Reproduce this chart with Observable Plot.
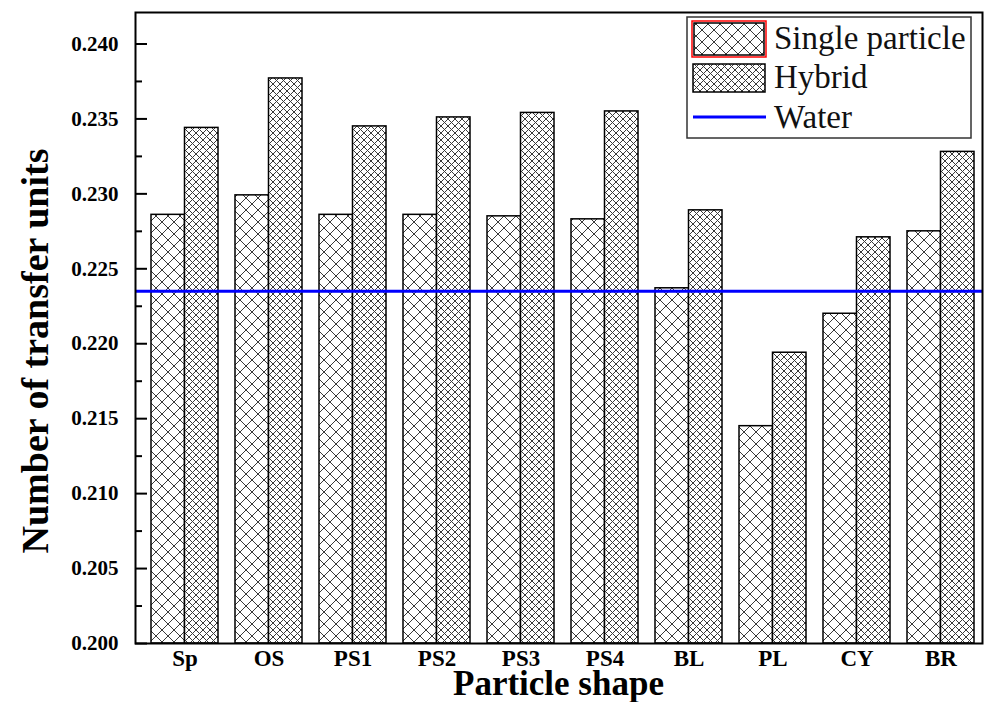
<!DOCTYPE html>
<html>
<head>
<meta charset="utf-8">
<script src="https://cdn.jsdelivr.net/npm/d3@7"></script>
<script src="https://cdn.jsdelivr.net/npm/@observablehq/plot@0.6"></script>
<style>
  html, body { margin: 0; padding: 0; background: white; }
  #chart svg { display: block; }
</style>
</head>
<body>
<div id="chart"></div>
<script>
// ---- data ----
const shapes = ["Sp", "OS", "PS1", "PS2", "PS3", "PS4", "BL", "PL", "CY", "BR"];
const singleParticle = [0.2286, 0.2299, 0.2286, 0.2286, 0.2285, 0.2283, 0.2237, 0.2145, 0.2220, 0.2275];
const hybrid = [0.2344, 0.2377, 0.2345, 0.2351, 0.2354, 0.2355, 0.2289, 0.2194, 0.2271, 0.2328];
const water = 0.2235;
const yMajorTicks = [0.200, 0.205, 0.210, 0.215, 0.220, 0.225, 0.230, 0.235, 0.240];
const yMinorTicks = [0.2025, 0.2075, 0.2125, 0.2175, 0.2225, 0.2275, 0.2325, 0.2375];
const seriesNames = ["Single particle", "Hybrid", "Water"];

// ---- layout ----
const W = 984, H = 702;
const mL = 135, mR = 2, mT = 12, mB = 59;
const yDomain = [0.2, 0.2421];
const padInner = 0.2055, padOuter = 0.1245, align = 0.667;
const bw = d3.scaleBand().domain(shapes).range([mL, W - mR])
  .paddingInner(padInner).paddingOuter(padOuter).align(align).bandwidth();
const half = bw / 2;
const serif = "'Liberation Serif', 'Times New Roman', serif";

const chart = Plot.plot({
  width: W, height: H,
  marginLeft: mL, marginRight: mR, marginTop: mT, marginBottom: mB,
  style: { fontFamily: serif, fontWeight: "bold", color: "black", background: "white", overflow: "visible" },
  x: { type: "band", domain: shapes, paddingInner: padInner, paddingOuter: padOuter, align: align, label: null },
  y: { domain: yDomain, label: null },
  marks: [
    Plot.barY(shapes, {
      x: d => d, y1: () => yDomain[0], y2: (d, i) => singleParticle[i],
      fill: "url(#hatchSingle)", stroke: "black", strokeWidth: 1.5, insetRight: half
    }),
    Plot.barY(shapes, {
      x: d => d, y1: () => yDomain[0], y2: (d, i) => hybrid[i],
      fill: "url(#hatchHybrid)", stroke: "black", strokeWidth: 1.5, insetLeft: half
    }),
    Plot.ruleY([water], { stroke: "#0000ff", strokeWidth: 3 }),
    Plot.frame({ stroke: "black", strokeWidth: 2 }),
    Plot.axisY({ ticks: yMajorTicks, tickSize: 0, tickPadding: 17, tickFormat: d3.format(".3f"), label: null }),
    Plot.axisY({ ticks: yMajorTicks, tickSize: 12, dx: 12, tickFormat: null, text: null, strokeWidth: 2, label: null }),
    Plot.axisY({ ticks: yMinorTicks, tickSize: 7, dx: 7, tickFormat: null, text: null, strokeWidth: 2, label: null }),
    Plot.axisX({ tickSize: 0, tickPadding: 6, label: null })
  ]
});

document.getElementById("chart").appendChild(chart);

const svg = d3.select(chart);
svg.selectAll("g[aria-label='y-axis tick label']").attr("font-size", 21).attr("font-weight", "bold");
svg.selectAll("g[aria-label='x-axis tick label']").attr("font-size", 23).attr("font-weight", "bold");

const defs = svg.insert("defs", ":first-child");
function hatch(id, s) {
  const p = defs.append("pattern").attr("id", id).attr("patternUnits", "userSpaceOnUse")
    .attr("width", s).attr("height", s);
  p.append("rect").attr("width", s).attr("height", s).attr("fill", "white");
  p.append("path").attr("d", `M0,0L${s},${s}M${s},0L0,${s}M-1,${s-1}L1,${s+1}M${s-1},-1L${s+1},1M-1,1L1,-1M${s-1},${s+1}L${s+1},${s-1}`)
    .attr("stroke", "#3a3a3a").attr("stroke-width", 1).attr("fill", "none");
}
hatch("hatchSingle", 12);
hatch("hatchHybrid", 7);

// axis titles
svg.append("text").text("Particle shape")
  .attr("x", (mL + W - mR) / 2).attr("y", 695)
  .attr("text-anchor", "middle").attr("font-family", serif)
  .attr("font-weight", "bold").attr("font-size", 35).attr("fill", "black");
svg.append("text").text("Number of transfer units")
  .attr("transform", "translate(48,351) rotate(-90)")
  .attr("text-anchor", "middle").attr("font-family", serif)
  .attr("font-weight", "bold").attr("font-size", 38).attr("fill", "black");

// legend
const lg = svg.append("g").attr("font-family", serif).attr("font-weight", "normal")
  .attr("font-size", 33).attr("fill", "#111").attr("text-anchor", "start");
lg.append("rect").attr("x", 687).attr("y", 17).attr("width", 284).attr("height", 121)
  .attr("fill", "white").attr("stroke", "#333").attr("stroke-width", 1.5);
lg.append("rect").attr("x", 692).attr("y", 21).attr("width", 74).attr("height", 36)
  .attr("fill", "none").attr("stroke", "red").attr("stroke-width", 1.5);
lg.append("rect").attr("x", 694).attr("y", 23).attr("width", 70).attr("height", 32)
  .attr("fill", "url(#hatchSingle)").attr("stroke", "black").attr("stroke-width", 1.5);
lg.append("text").attr("x", 774).attr("y", 49).attr("text-anchor", "start").text(seriesNames[0]);
lg.append("rect").attr("x", 693).attr("y", 64).attr("width", 72).attr("height", 28)
  .attr("fill", "url(#hatchHybrid)").attr("stroke", "black").attr("stroke-width", 1.5);
lg.append("text").attr("x", 774).attr("y", 88).attr("text-anchor", "start").text(seriesNames[1]);
lg.append("line").attr("x1", 693).attr("x2", 766).attr("y1", 117).attr("y2", 117)
  .attr("stroke", "#0000ff").attr("stroke-width", 3);
lg.append("text").attr("x", 774).attr("y", 128).attr("text-anchor", "start").text(seriesNames[2]);
</script>
</body>
</html>
